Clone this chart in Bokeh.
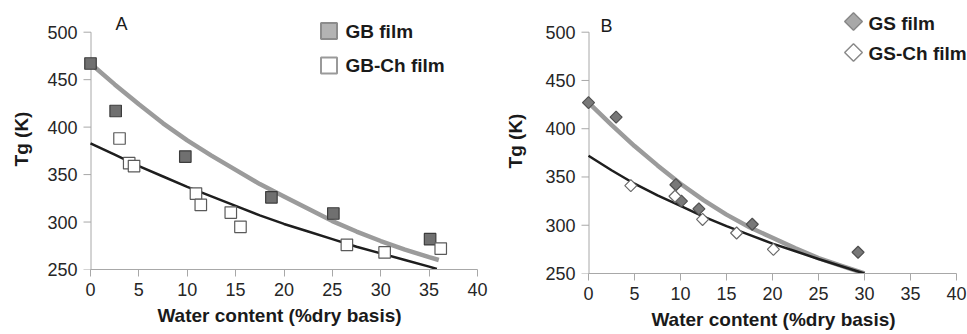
import numpy as np
from bokeh.plotting import figure
from bokeh.layouts import row
from bokeh.models import Range1d, FixedTicker
from bokeh.core.properties import value
from bokeh.embed import file_html
from bokeh.resources import INLINE

# ---------------- data ----------------
x_ticks = [0, 5, 10, 15, 20, 25, 30, 35, 40]
y_ticks = [250, 300, 350, 400, 450, 500]

# Panel A
gb_x = [0.0, 2.6, 9.8, 18.7, 25.1, 35.1]
gb_y = [467, 417, 369, 326, 309, 282]
gbch_x = [3.0, 4.0, 4.5, 10.9, 11.4, 14.5, 15.5, 26.5, 30.4, 36.2]
gbch_y = [388, 362, 359, 330, 318, 310, 295, 276, 268, 272]
gb_fit_x = [0, 2.5, 5, 7.5, 10, 12.5, 15, 17.5, 20, 22.5, 25, 27.5, 30, 32.5, 35, 36]
gb_fit_y = [467, 445, 424, 404, 386, 370, 355, 340, 327, 314, 301, 290, 280, 271, 263, 260]
gbch_fit_x = [0, 2.5, 5, 7.5, 10, 12.5, 15, 17.5, 20, 22.5, 25, 27.5, 30, 32.5, 35, 35.8]
gbch_fit_y = [383, 371, 359, 348, 337, 327, 317, 307, 298, 290, 282, 274, 267, 260, 253, 250.5]

# Panel B
gs_x = [0.0, 3.0, 9.5, 10.1, 12.0, 17.8, 29.3]
gs_y = [427, 412, 342, 325, 317, 301, 272]
gsch_x = [4.6, 9.4, 12.4, 16.1, 20.1]
gsch_y = [341, 330, 306, 292, 275]
gs_fit_x = [0, 2.5, 5, 7.5, 10, 12.5, 15, 17.5, 20, 22.5, 25, 27.5, 30]
gs_fit_y = [427, 404, 382, 362, 343, 326, 311, 298, 287, 276, 266, 258, 250]
gsch_fit_x = [0, 2.5, 5, 7.5, 10, 12.5, 15, 17.5, 20, 22.5, 25, 27.5, 30]
gsch_fit_y = [372, 357, 343, 331, 320, 309, 299, 290, 281, 273, 265, 257.5, 250]

legend_a = ["GB film", "GB-Ch film"]
legend_b = ["GS film", "GS-Ch film"]
x_title = "Water content (%dry basis)"
y_title = "Tg (K)"

# ---------------- styling / layout ----------------
FONT = "Liberation Sans"
H = 334
AX_COL = "#a8a8a8"
PAD = 9      # pixels of frame left of the x=0 axis, so markers at x=0 are not clipped
TICK = 7     # tick length in pixels


class Panel:
    def __init__(self, axis_left, frame_right, x_axis_px, right_border, axis_bottom_px, top_px):
        self.axis_left = axis_left
        self.left = axis_left - PAD
        self.ppx = x_axis_px / 40.0
        self.frame_w = frame_right - self.left
        self.bottom_border = H - axis_bottom_px
        self.axis_bottom = axis_bottom_px
        self.ppy = (axis_bottom_px - 31.7) / 250.0
        self.top = top_px
        self.frame_h = axis_bottom_px - top_px
        self.x_start = -PAD / self.ppx
        self.x_end = (frame_right - axis_left) / self.ppx
        self.y_end = 250 + self.frame_h / self.ppy
        self.right = right_border

    def dx(self, px):  # px relative to figure's left edge
        return (px - self.axis_left) / self.ppx

    def dy(self, py):
        return 250 + (self.axis_bottom - py) / self.ppy


def make_fig(pn, ytitle_standoff):
    p = figure(frame_width=pn.frame_w, frame_height=pn.frame_h,
               x_range=Range1d(pn.x_start, pn.x_end), y_range=Range1d(250, pn.y_end),
               output_backend="svg", toolbar_location=None,
               min_border_left=pn.left, min_border_right=pn.right,
               min_border_top=pn.top, min_border_bottom=pn.bottom_border,
               background_fill_color="white", border_fill_color="white")
    p.outline_line_color = None
    p.grid.visible = False
    p.xaxis.ticker = FixedTicker(ticks=x_ticks)
    p.yaxis.ticker = FixedTicker(ticks=y_ticks)
    p.xaxis.bounds = (0, 40)
    p.axis.axis_line_color = AX_COL
    p.axis.major_tick_line_color = AX_COL
    p.xaxis.major_tick_out = TICK
    p.axis.major_tick_in = 0
    p.axis.minor_tick_line_color = None
    p.axis.major_label_text_font = FONT
    p.axis.major_label_text_font_size = "18px"
    p.axis.major_label_text_color = "#262626"
    p.xaxis.major_label_standoff = 6
    p.axis.axis_label_text_font = FONT
    p.axis.axis_label_text_font_style = "bold"
    p.axis.axis_label_text_font_size = "19px"
    p.axis.axis_label_text_color = "#1a1a1a"
    p.xaxis.axis_label = x_title
    p.yaxis.axis_label = y_title
    p.xaxis.axis_label_standoff = 6
    # y axis: labels from the library axis at the frame edge; its line and
    # ticks are drawn at x = 0 (PAD pixels inside the frame)
    p.yaxis.axis_line_color = None
    p.yaxis.major_tick_line_color = None
    p.yaxis.major_tick_out = 0
    p.yaxis.major_label_standoff = TICK + 6 - PAD
    p.yaxis.axis_label_standoff = ytitle_standoff
    half = 0.5 / pn.ppx
    n = len(y_ticks)
    p.segment(x0=[-TICK / pn.ppx] * n, y0=y_ticks, x1=[half] * n, y1=y_ticks,
              line_color=AX_COL, line_width=1)
    p.segment(x0=[half], y0=[min(y_ticks)], x1=[half], y1=[max(y_ticks)],
              line_color=AX_COL, line_width=1)
    return p


def add_text(p, x, y, s, bold=True, size="19px"):
    p.text(x=[x], y=[y], text=[s], text_font=value(FONT),
           text_font_size=value(size), text_font_style="bold" if bold else "normal",
           text_color="#1a1a1a", text_align="left", text_baseline="middle")


# Panel A (figure spans page x 0..490)
pa = Panel(axis_left=90, frame_right=477, x_axis_px=387, right_border=13,
           axis_bottom_px=269, top_px=8)
A = make_fig(pa, 12)
A.line(gb_fit_x, gb_fit_y, line_color="#9b9b9b", line_width=4.5)
A.line(gbch_fit_x, gbch_fit_y, line_color="#1e1e1e", line_width=2.5)
A.scatter(gb_x, gb_y, marker="square", size=11.5, fill_color="#707070",
          line_color="#3c3c3c", line_width=1.2)
A.scatter(gbch_x, gbch_y, marker="square", size=11.5, fill_color="white",
          line_color="#5a5a5a", line_width=1.2)
A.scatter([pa.dx(328.5)], [pa.dy(30.5)], marker="square", size=16,
          fill_color="#b3b3b3", line_color="#8c8c8c", line_width=2)
A.scatter([pa.dx(328.5)], [pa.dy(65)], marker="square", size=16,
          fill_color="white", line_color="#9a9a9a", line_width=2)
add_text(A, pa.dx(345), pa.dy(31), legend_a[0])
add_text(A, pa.dx(345), pa.dy(65), legend_a[1])
add_text(A, pa.dx(115), pa.dy(23), "A", bold=False, size="18px")

# Panel B (figure spans page x 490..967; coordinates below are relative to 490)
pb = Panel(axis_left=98, frame_right=477, x_axis_px=368, right_border=0,
           axis_bottom_px=273, top_px=8)
B = make_fig(pb, 16)
B.line(gs_fit_x, gs_fit_y, line_color="#9b9b9b", line_width=4.5)
B.line(gsch_fit_x, gsch_fit_y, line_color="#1e1e1e", line_width=2.5)
B.scatter(gs_x, gs_y, marker="square", angle=np.pi / 4, size=8.5,
          fill_color="#787878", line_color="#505050", line_width=1.2)
B.scatter(gsch_x, gsch_y, marker="square", angle=np.pi / 4, size=8.5,
          fill_color="white", line_color="#6a6a6a", line_width=1.2)
B.scatter([pb.dx(853 - 490)], [pb.dy(21)], marker="square", angle=np.pi / 4,
          size=12.5, fill_color="#a8a8a8", line_color="#888888", line_width=1.5)
B.scatter([pb.dx(853 - 490)], [pb.dy(52)], marker="square", angle=np.pi / 4,
          size=12.5, fill_color="white", line_color="#8a8a8a", line_width=1.5)
add_text(B, pb.dx(868 - 490), pb.dy(23), legend_b[0])
add_text(B, pb.dx(868 - 490), pb.dy(52.5), legend_b[1])
add_text(B, pb.dx(600 - 490), pb.dy(25), "B", bold=False, size="18px")

layout = row(A, B)
open("out.html", "w").write(file_html(layout, INLINE))
